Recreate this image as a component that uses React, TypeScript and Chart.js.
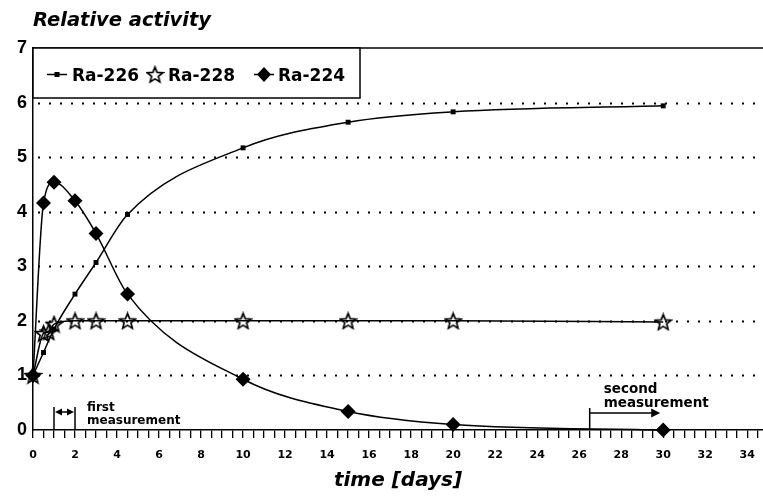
import React, { useEffect, useRef } from 'react';
import { Chart, registerables } from 'chart.js';

Chart.register(...registerables);

// ---- data ----
const seriesNames = ['Ra-226', 'Ra-228', 'Ra-224'];
const ra226Days = [0, 0.5, 1, 2, 3, 4.5, 10, 15, 20, 30];
const ra226Values = [1, 1.42, 1.85, 2.49, 3.07, 3.95, 5.17, 5.64, 5.83, 5.94];
const ra228Days = [0, 0.5, 0.75, 1, 2, 3, 4.5, 10, 15, 20, 30];
const ra228Values = [1, 1.77, 1.8, 1.94, 2.0, 2.0, 2.0, 2.0, 2.0, 2.0, 1.98];
const ra224Days = [0, 0.5, 1, 2, 3, 4.5, 10, 15, 20, 30];
const ra224Values = [1, 4.16, 4.54, 4.2, 3.6, 2.49, 0.93, 0.34, 0.1, 0.0];

const xTickLabels = ['0', '2', '4', '6', '8', '10', '12', '14', '16', '18', '20', '22', '24', '26', '28', '30', '32', '34'];
const xMinorStep = 0.5;
const yTickLabels = ['0', '1', '2', '3', '4', '5', '6', '7'];
const yGridValues = [1, 2, 3, 4, 5, 6];
const firstMeasurement = [1, 2];
const secondMeasurement = [26.5, 30];

const chartTitle = 'Relative activity';
const xTitle = 'time [days]';

function makeStar(): HTMLCanvasElement {
  const c = document.createElement('canvas');
  const s = 19;
  c.width = s;
  c.height = s;
  const g = c.getContext('2d')!;
  const cx = s / 2, cy = s / 2 + 0.8;
  const ro = 8.2, ri = 3.6;
  g.beginPath();
  for (let i = 0; i < 10; i++) {
    const r = i % 2 === 0 ? ro : ri;
    const a = -Math.PI / 2 + (i * Math.PI) / 5;
    const px = cx + r * Math.cos(a);
    const py = cy + r * Math.sin(a);
    if (i === 0) g.moveTo(px, py); else g.lineTo(px, py);
  }
  g.closePath();
  g.lineWidth = 1.7;
  g.strokeStyle = '#000';
  g.lineJoin = 'miter';
  g.stroke();
  return c;
}

function arrowHead(ctx: CanvasRenderingContext2D, x: number, y: number, dir: number, len: number, half: number) {
  ctx.beginPath();
  ctx.moveTo(x, y);
  ctx.lineTo(x - dir * len, y - half);
  ctx.lineTo(x - dir * len, y + half);
  ctx.closePath();
  ctx.fill();
}

export default function App() {
  const ref = useRef<HTMLCanvasElement | null>(null);

  useEffect(() => {
    if (!ref.current) return;
    const star = makeStar();

    const decor = {
      id: 'decor',
      beforeDatasetsDraw(chart: any) {
        const { ctx, chartArea, scales } = chart;
        const y = scales.y;
        ctx.save();
        ctx.strokeStyle = '#000';
        ctx.lineWidth = 2;
        ctx.setLineDash([2, 9]);
        ctx.lineDashOffset = -5;
        for (const v of yGridValues) {
          const py = Math.round(y.getPixelForValue(v)) + 0.5;
          ctx.beginPath();
          ctx.moveTo(chartArea.left, py);
          ctx.lineTo(chartArea.right, py);
          ctx.stroke();
        }
        ctx.setLineDash([]);
        ctx.lineWidth = 1.5;
        const top = y.getPixelForValue(7);
        ctx.beginPath();
        ctx.moveTo(chartArea.left, top);
        ctx.lineTo(chartArea.right, top);
        ctx.stroke();
        ctx.restore();
      },
      afterDraw(chart: any) {
        const { ctx, chartArea, scales } = chart;
        const x = scales.x;
        const y = scales.y;
        const base = y.getPixelForValue(0);
        ctx.save();
        ctx.fillStyle = '#000';
        ctx.strokeStyle = '#000';

        // title
        ctx.font = 'italic bold 19.5px "DejaVu Sans"';
        ctx.textAlign = 'left';
        ctx.textBaseline = 'alphabetic';
        ctx.fillText(chartTitle, chartArea.left, 26);

        // x title
        ctx.font = 'italic bold 20px "DejaVu Sans"';
        ctx.textAlign = 'center';
        ctx.fillText(xTitle, 398, 486);

        // legend
        const lx0 = chartArea.left, ly0 = y.getPixelForValue(7);
        const lx1 = 360, ly1 = 98;
        ctx.fillStyle = '#fff';
        ctx.fillRect(lx0, ly0, lx1 - lx0, ly1 - ly0);
        ctx.fillStyle = '#000';
        ctx.lineWidth = 1.5;
        ctx.strokeRect(lx0, ly0, lx1 - lx0, ly1 - ly0);
        const ly = 74.5;
        ctx.font = 'bold 17px "DejaVu Sans"';
        ctx.textAlign = 'left';
        ctx.textBaseline = 'alphabetic';
        const markers = [57, 155, 264];
        const texts = [72, 168, 278];
        // Ra-226 marker
        ctx.beginPath();
        ctx.moveTo(markers[0] - 10, ly);
        ctx.lineTo(markers[0] + 10, ly);
        ctx.stroke();
        ctx.fillRect(markers[0] - 2.5, ly - 2.5, 5, 5);
        // Ra-228 marker
        ctx.drawImage(star, markers[1] - star.width / 2, ly - star.height / 2);
        // Ra-224 marker
        ctx.beginPath();
        ctx.moveTo(markers[2] - 10, ly);
        ctx.lineTo(markers[2] + 10, ly);
        ctx.stroke();
        ctx.beginPath();
        ctx.moveTo(markers[2] - 7, ly);
        ctx.lineTo(markers[2], ly - 7.5);
        ctx.lineTo(markers[2] + 7, ly);
        ctx.lineTo(markers[2], ly + 7.5);
        ctx.closePath();
        ctx.fill();
        for (let i = 0; i < seriesNames.length; i++) {
          ctx.fillText(seriesNames[i], texts[i], 81);
        }

        // first measurement
        const f1 = x.getPixelForValue(firstMeasurement[0]);
        const f2 = x.getPixelForValue(firstMeasurement[1]);
        ctx.lineWidth = 1.5;
        ctx.beginPath();
        ctx.moveTo(f1, base - 23); ctx.lineTo(f1, base);
        ctx.moveTo(f2, base - 23); ctx.lineTo(f2, base);
        ctx.moveTo(f1 + 3, base - 18); ctx.lineTo(f2 - 3, base - 18);
        ctx.stroke();
        arrowHead(ctx, f1 + 1, base - 18, -1, 7, 3.5);
        arrowHead(ctx, f2 - 1, base - 18, 1, 7, 3.5);
        ctx.font = 'bold 12px "DejaVu Sans"';
        ctx.textAlign = 'left';
        ctx.fillText('first', f2 + 12, base - 19);
        ctx.fillText('measurement', f2 + 12, base - 6);

        // second measurement
        const s1 = x.getPixelForValue(secondMeasurement[0]);
        const s2 = x.getPixelForValue(secondMeasurement[1]);
        ctx.beginPath();
        ctx.moveTo(s1, base - 22); ctx.lineTo(s1, base);
        ctx.moveTo(s1, base - 17); ctx.lineTo(s2 - 8, base - 17);
        ctx.stroke();
        arrowHead(ctx, s2 - 3, base - 17, 1, 9, 4.5);
        ctx.font = 'bold 13.5px "DejaVu Sans"';
        ctx.fillText('second', s1 + 14, base - 37);
        ctx.fillText('measurement', s1 + 14, base - 23);

        ctx.restore();
      },
    };

    const common = {
      borderColor: '#000',
      backgroundColor: '#000',
      borderWidth: 1.5,
      cubicInterpolationMode: 'monotone' as const,
      clip: false as any,
      pointBorderColor: '#000',
      pointBackgroundColor: '#000',
    };

    const xTicks: number[] = [];
    const lastLabel = Number(xTickLabels[xTickLabels.length - 1]);
    for (let v = 0; v <= lastLabel + xMinorStep + 1e-9; v += xMinorStep) xTicks.push(v);

    const chart = new Chart(ref.current, {
      type: 'line',
      data: {
        datasets: [
          {
            ...common,
            label: seriesNames[0],
            data: ra226Days.map((d, i) => ({ x: d, y: ra226Values[i] })),
            pointStyle: 'rect',
            pointRadius: 3.5,
            pointBorderWidth: 0,
          },
          {
            ...common,
            label: seriesNames[1],
            data: ra228Days.map((d, i) => ({ x: d, y: ra228Values[i] })),
            pointStyle: star as any,
            pointRadius: 8,
          },
          {
            ...common,
            label: seriesNames[2],
            data: ra224Days.map((d, i) => ({ x: d, y: ra224Values[i] })),
            pointStyle: 'rectRot',
            pointRadius: 7.5,
            pointBorderWidth: 0,
          },
        ],
      },
      options: {
        animation: false,
        responsive: true,
        maintainAspectRatio: false,
        events: [],
        layout: { autoPadding: false, padding: { top: 48, left: 0, right: 0, bottom: 0 } },
        plugins: {
          legend: { display: false },
          title: { display: false },
          tooltip: { enabled: false },
        },
        scales: {
          x: {
            type: 'linear',
            min: 0,
            max: 34.75,
            afterFit: (s: any) => {
              s.height = 68;
              s.paddingLeft = 0;
              s.paddingRight = 0;
            },
            afterBuildTicks: (s: any) => { s.ticks = xTicks.map((v) => ({ value: v })); },
            ticks: {
              autoSkip: false,
              maxRotation: 0,
              padding: 11,
              color: '#000',
              font: { family: 'DejaVu Sans', weight: 'bold', size: 11 },
              callback: (v: any) => {
                const s = String(v);
                return xTickLabels.includes(s) ? s : '';
              },
            },
            grid: {
              display: true,
              drawOnChartArea: false,
              drawTicks: true,
              tickLength: 8,
              color: '#000',
              lineWidth: 1.3,
            },
            border: { display: true, color: '#000', width: 1.5 },
          },
          y: {
            type: 'linear',
            min: 0,
            max: 7,
            afterFit: (s: any) => {
              s.width = 33;
              s.paddingTop = 0;
              s.paddingBottom = 0;
            },
            ticks: {
              stepSize: 1,
              padding: 6,
              color: '#000',
              font: { family: 'Liberation Sans', weight: 'bold', size: 18 },
              callback: (v: any) => yTickLabels[Number(v)] ?? '',
            },
            grid: { display: false, drawTicks: false },
            border: { display: true, color: '#000', width: 1.5 },
          },
        },
      },
      plugins: [decor],
    });

    return () => chart.destroy();
  }, []);

  return (
    <div style={{ position: 'fixed', left: 0, top: 0, width: 763, height: 498, background: '#fff' }}>
      <canvas ref={ref} />
    </div>
  );
}
